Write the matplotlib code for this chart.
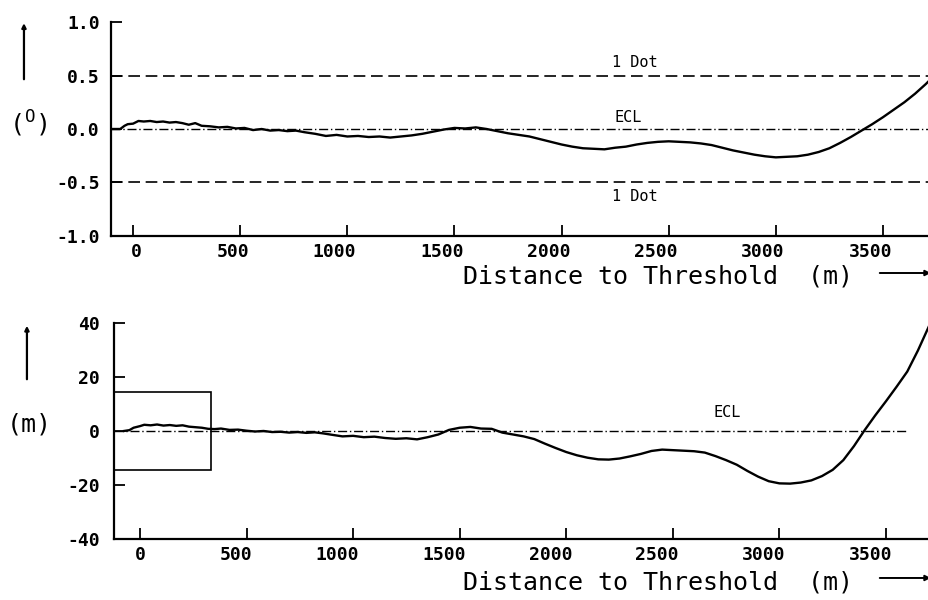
import matplotlib
matplotlib.use("Agg")
import matplotlib.pyplot as plt
import matplotlib.transforms as mtransforms
from matplotlib.patches import Rectangle, FancyArrowPatch

# angular deviation from extended centre line (degrees) vs distance to threshold (m)
top_dist = [-95, -60, -40, -25, 0, 25, 50, 80, 110, 140, 170, 200, 230, 260, 290,
            320, 360, 400, 440, 480, 520, 560, 600, 640, 680, 720, 760, 800, 850,
            900, 950, 1000, 1050, 1100, 1150, 1200, 1250, 1300, 1350, 1400, 1450,
            1500, 1550, 1600, 1650, 1700, 1750, 1800, 1850, 1900, 1950, 2000, 2050,
            2100, 2150, 2200, 2250, 2300, 2350, 2400, 2450, 2500, 2550, 2600, 2650,
            2700, 2750, 2800, 2850, 2900, 2950, 3000, 3050, 3100, 3150, 3200, 3250,
            3300, 3350, 3400, 3450, 3500, 3550, 3600, 3650, 3700, 3715]
top_dev = [0.0, 0.0, 0.03, 0.045, 0.05, 0.075, 0.07, 0.075, 0.065, 0.07, 0.06, 0.065,
           0.055, 0.04, 0.055, 0.03, 0.025, 0.015, 0.02, 0.005, 0.01, -0.01, 0.0,
           -0.015, -0.01, -0.02, -0.015, -0.03, -0.045, -0.065, -0.055, -0.07, -0.065,
           -0.075, -0.07, -0.08, -0.07, -0.06, -0.045, -0.025, -0.005, 0.01, 0.005,
           0.015, 0.0, -0.02, -0.04, -0.055, -0.07, -0.095, -0.12, -0.145, -0.165,
           -0.18, -0.185, -0.19, -0.175, -0.165, -0.145, -0.13, -0.12, -0.115, -0.12,
           -0.125, -0.135, -0.15, -0.175, -0.2, -0.22, -0.24, -0.255, -0.265, -0.26,
           -0.255, -0.24, -0.215, -0.18, -0.13, -0.075, -0.015, 0.045, 0.11, 0.18,
           0.25, 0.33, 0.42, 0.45]

# lateral deviation (m) vs distance to threshold (m)
bot_dist = [-75, -50, -30, 0, 20, 50, 80, 110, 140, 170, 200, 230, 260, 290, 320, 350,
            380, 420, 460, 500, 540, 580, 620, 660, 700, 740, 780, 820, 860, 900, 950,
            1000, 1050, 1100, 1150, 1200, 1250, 1300, 1350, 1400, 1450, 1500, 1550,
            1600, 1650, 1700, 1750, 1800, 1850, 1900, 1950, 2000, 2050, 2100, 2150,
            2200, 2250, 2300, 2350, 2400, 2450, 2500, 2550, 2600, 2650, 2700, 2750,
            2800, 2850, 2900, 2950, 3000, 3050, 3100, 3150, 3200, 3250, 3300, 3350,
            3400, 3450, 3500, 3550, 3600, 3650, 3700]
bot_dev = [0.0, 0.3, 1.2, 1.8, 2.3, 2.1, 2.4, 2.0, 2.2, 1.9, 2.1, 1.6, 1.4, 1.2, 0.8,
           0.7, 0.9, 0.4, 0.5, 0.1, -0.2, 0.0, -0.4, -0.3, -0.6, -0.4, -0.7, -0.5, -0.9,
           -1.4, -2.0, -1.8, -2.3, -2.1, -2.6, -2.9, -2.7, -3.1, -2.3, -1.3, 0.4, 1.2,
           1.5, 0.9, 0.8, -0.6, -1.3, -2.0, -3.0, -4.7, -6.3, -7.8, -9.0, -9.9, -10.5,
           -10.6, -10.2, -9.4, -8.5, -7.4, -6.9, -7.1, -7.3, -7.5, -8.0, -9.3, -10.8,
           -12.5, -14.8, -16.9, -18.6, -19.4, -19.5, -19.1, -18.3, -16.7, -14.4, -10.8,
           -5.6, 0.3, 5.8, 11.0, 16.4, 22.0, 29.8, 38.5]

x_ticks = [0, 500, 1000, 1500, 2000, 2500, 3000, 3500]
x_labels = ["0", "500", "1000", "1500", "2000", "2500", "3000", "3500"]
top_yticks = [-1.0, -0.5, 0.0, 0.5, 1.0]
top_ylabels = ["-1.0", "-0.5", "0.0", "0.5", "1.0"]
bot_yticks = [-40, -20, 0, 20, 40]
bot_ylabels = ["-40", "-20", "0", "20", "40"]
dot_level = 0.5
ecl_end_bottom = 3600
box_x_end = 335
box_half = 14.5

MONO = "DejaVu Sans Mono"
plt.rcParams["mathtext.fontset"] = "custom"
plt.rcParams["mathtext.rm"] = MONO
dashed = (7, 3.4)
dashdot = (6.5, 2, 1, 2)

fig = plt.figure(figsize=(9.29, 6.0), dpi=100)
ax1 = fig.add_axes([0.1195, 0.6067, 0.8805, 0.3566])
ax2 = fig.add_axes([0.1227, 0.1017, 0.8773, 0.36])

for ax, shift in ((ax1, 9), (ax2, 6)):
    for side in ("top", "right"):
        ax.spines[side].set_visible(False)
    for side in ("left", "bottom"):
        ax.spines[side].set_linewidth(1.6)
    ax.tick_params(direction="in", length=8, width=1.3)
    ax.tick_params(axis="x", pad=5)
    ax.tick_params(axis="y", pad=8)
    ax.set_xticks(x_ticks)
    ax.set_xticklabels(x_labels, fontfamily=MONO, fontweight="bold", fontsize=13)
    # plotter put the numbers slightly left of their tick marks
    offset = mtransforms.ScaledTranslation(shift / 100, 0, fig.dpi_scale_trans)
    for lab in ax.get_xticklabels():
        lab.set_horizontalalignment("right")
        lab.set_transform(lab.get_transform() + offset)

# upper panel
ax1.set_xlim(-103, 3715)
ax1.set_ylim(-1.0, 1.0)
ax1.set_yticks(top_yticks)
ax1.set_yticklabels(top_ylabels, fontfamily=MONO, fontweight="bold", fontsize=13)
ax1.axhline(dot_level, color="k", lw=1.2, dashes=dashed)
ax1.axhline(-dot_level, color="k", lw=1.2, dashes=dashed)
ax1.axhline(0, color="k", lw=1.0, dashes=dashdot)
ax1.plot(top_dist, top_dev, color="k", lw=1.7)
ax1.text(2343, 0.625, "1 Dot", ha="center", va="center", fontfamily=MONO, fontsize=11)
ax1.text(2310, 0.11, "ECL", ha="center", va="center", fontfamily=MONO, fontsize=11)
ax1.text(2343, -0.63, "1 Dot", ha="center", va="center", fontfamily=MONO, fontsize=11)

# lower panel
ax2.set_xlim(-122, 3702)
ax2.set_ylim(-40, 40)
ax2.set_yticks(bot_yticks)
ax2.set_yticklabels(bot_ylabels, fontfamily=MONO, fontweight="bold", fontsize=13)
ax2.tick_params(axis="y", pad=10)
ax2.plot([-122, ecl_end_bottom], [0, 0], color="k", lw=1.0, dashes=dashdot)
ax2.plot(bot_dist, bot_dev, color="k", lw=1.7)
ax2.add_patch(Rectangle((-122, -box_half), box_x_end + 122, 2 * box_half,
                        fill=False, ec="k", lw=1.2, clip_on=False))
ax2.text(2755, 7.0, "ECL", ha="center", va="center", fontfamily=MONO, fontsize=11)

# axis titles and direction arrows
for ytxt, yline in ((0.528, 0.545), (0.018, 0.0367)):
    fig.text(0.918, ytxt, "Distance to Threshold  (m)", ha="right", va="baseline",
             fontfamily=MONO, fontsize=18)
    fig.add_artist(FancyArrowPatch((0.944, yline), (1.005, yline), transform=fig.transFigure,
                                   arrowstyle="-|>", mutation_scale=8, lw=1.4, color="k"))

fig.add_artist(FancyArrowPatch((0.0258, 0.8633), (0.0258, 0.966), transform=fig.transFigure,
                               arrowstyle="-|>", mutation_scale=6, lw=1.6, color="k"))
fig.add_artist(FancyArrowPatch((0.029, 0.3633), (0.029, 0.4617), transform=fig.transFigure,
                               arrowstyle="-|>", mutation_scale=6, lw=1.6, color="k"))

fig.text(0.0305, 0.793, r"($^{\mathrm{O}}$)", ha="center", va="center",
         fontfamily=MONO, fontsize=18)
fig.text(0.032, 0.292, "(m)", ha="center", va="center", fontfamily=MONO, fontsize=18)

fig.savefig("out.png", dpi=100)
